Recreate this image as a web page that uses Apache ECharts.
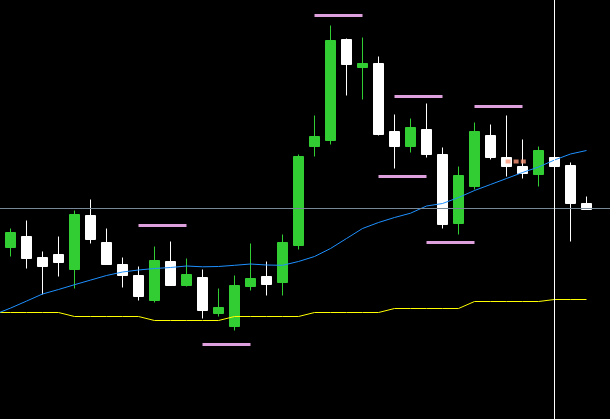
<!DOCTYPE html>
<html>
<head>
<meta charset="utf-8">
<script src="https://cdn.jsdelivr.net/npm/echarts@6/dist/echarts.min.js"></script>
<style>
html,body{margin:0;padding:0;background:#000;}
#chart{width:610px;height:419px;}
</style>
</head>
<body>
<div id="chart"></div>
<script>
// bar slots: slot 0 is a partly hidden bar before the first visible one
const slots = [0,1,2,3,4,5,6,7,8,9,10,11,12,13,14,15,16,17,18,19,20,21,22,23,24,25,26,27,28,29,30,31,32,33,34,35,36,37];

// OHLC values (chart units), one per slot
const openV  = [null,172,183,162,165,150,204,177,155,144,119,158,134,142,106, 93,133,143,137,174,273,279,380,352,356,288,273,290,265,196,233,284,262,253,245,262,254,216];
const closeV = [null,187,161,153,157,205,180,155,144,123,159,134,145,109,112,134,141,135,177,263,283,379,355,356,285,273,292,265,195,244,288,262,253,246,269,253,216,210];
const lowV   = [null,163,151,125,143,131,176,155,132,119,117,134,133,101,103, 89,129,124,124,170,263,275,324,320,284,251,267,262,191,185,230,260,243,241,233,253,178,210];
const highV  = [null,191,199,168,183,209,220,191,162,153,173,178,161,150,131,144,176,158,185,265,304,394,381,382,363,305,301,316,272,253,297,295,304,280,273,262,257,223];

// moving average (blue) and lower channel (yellow)
const maV = [105,111.4,118.4,125.5,130,134.8,139.4,144,147.5,149.5,151,152,153.5,152.7,153,154.2,155.5,154.5,154.2,158,163,171,181,191,197,202,206.3,213.5,216,222,229,235,241,247,252.5,259.5,265.5,269];
const lowChannel = [107,107,107,107,107,103,103,103,103,103,99,99,99,99,99,103,103,103,103,103,107,107,107,107,107,111,111,111,111,111,118,118,118,118,118,120,120,120];

// level segments (pink): start slot, end slot, level
const levelStart = [9, 13, 20, 25, 24, 30, 27];
const levelEnd   = [12, 16, 23, 28, 27, 33, 30];
const levelValue = [194, 75, 404, 323, 243, 313, 177];

// reference lines
const priceLine = 211;
const separatorSlot = 35;

// small trade markers (slot position, value)
const markerX = [32.1, 32.6, 33.05];
const markerY = [258, 258, 258];

// visible ranges
const xMin = 0.34375, xMax = 38.46875;
const yMin = 0.5, yMax = 419.5;

const candleData = [];
slots.forEach((k, i) => { if (openV[i] != null) candleData.push([k, openV[i], closeV[i], lowV[i], highV[i]]); });

const levelSeries = levelValue.map((v, j) => ({
  type: 'line', data: [[levelStart[j], v], [levelEnd[j], v]], symbol: 'none', silent: true, z: 4,
  lineStyle: { color: '#dda0dd', width: 3, cap: 'butt' }
}));

const chart = echarts.init(document.getElementById('chart'), null, { renderer: 'canvas' });
chart.setOption({
  backgroundColor: '#000000',
  animation: false,
  grid: { left: 0, top: 0, right: 0, bottom: 0 },
  xAxis: { type: 'value', min: xMin, max: xMax, show: false, splitLine: { show: false } },
  yAxis: { type: 'value', min: yMin, max: yMax, show: false, splitLine: { show: false } },
  series: [
    {
      type: 'line', data: [], silent: true, z: 1,
      markLine: {
        silent: true, symbol: ['none', 'none'], label: { show: false },
        lineStyle: { type: 'solid', color: '#778899', width: 1 },
        data: [{ yAxis: priceLine }]
      }
    },
    {
      type: 'candlestick', data: candleData, z: 2, barWidth: 10,
      encode: { x: 0, y: [1, 2, 3, 4] },
      itemStyle: {
        color: '#32cd32', color0: '#ffffff',
        borderColor: '#32cd32', borderColor0: '#ffffff', borderWidth: 1
      }
    },
    {
      type: 'line', data: slots.map((k, i) => [k, lowChannel[i]]), symbol: 'none', silent: true, z: 3,
      lineStyle: { color: '#ffff00', width: 1 }
    },
    {
      type: 'line', data: slots.map((k, i) => [k, maV[i]]), symbol: 'none', silent: true, z: 3,
      lineStyle: { color: '#1e90ff', width: 1 }
    },
    ...levelSeries,
    {
      type: 'scatter', data: markerX.map((x, i) => [x, markerY[i]]),
      symbol: 'rect', symbolSize: [5, 4], silent: true, z: 5,
      itemStyle: { color: '#ff9a7a' }
    },
    {
      type: 'line', data: [], silent: true, z: 6,
      markLine: {
        silent: true, symbol: ['none', 'none'], label: { show: false },
        lineStyle: { type: 'solid', color: '#ffffff', width: 1 },
        data: [{ xAxis: separatorSlot }]
      }
    }
  ]
});
</script>
</body>
</html>
